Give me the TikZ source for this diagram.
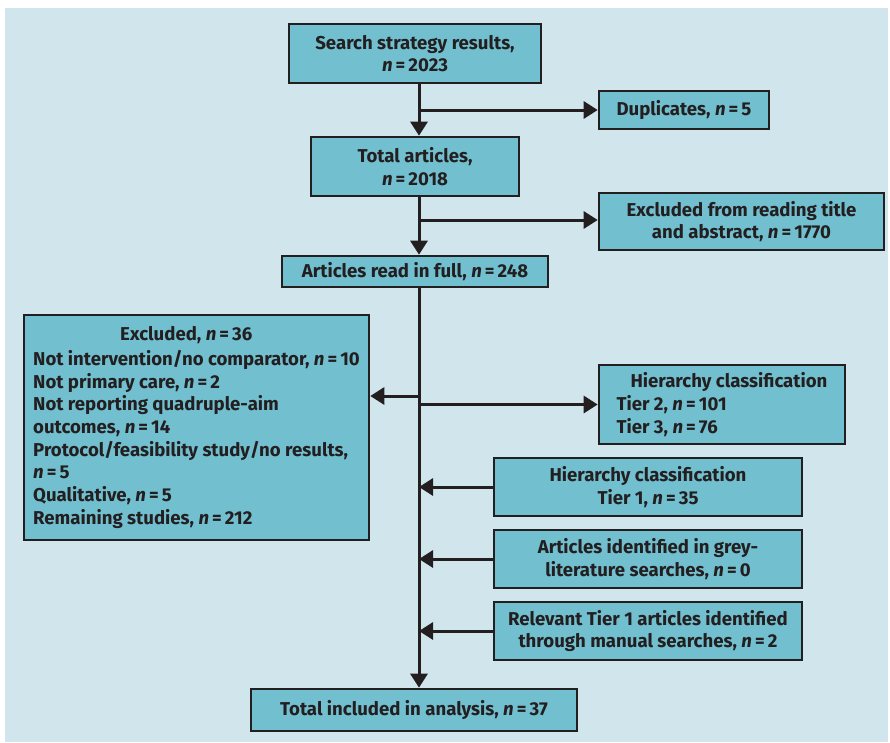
\documentclass[tikz,border=0pt]{standalone}
\usepackage{fontspec}
\setmainfont{Fira Sans}
\usetikzlibrary{arrows.meta,calc}
\definecolor{bgc}{HTML}{D1E5EC}
\definecolor{boxc}{HTML}{71BFCF}
\definecolor{ink}{HTML}{231F20}
\newcommand{\nval}{\textit{n}\,=\,}
\tikzset{
 box/.style={draw=ink, fill=boxc, line width=2.6pt, inner sep=0pt, align=center,
   font=\fontsize{18.6}{22.7}\selectfont\bfseries, text=ink},
 conn/.style={draw=ink, line width=3pt},
 arr/.style={conn, -{Triangle[length=14pt,width=17pt]}},
}
\begin{document}
\begin{tikzpicture}[x=1pt,y=-1pt]
\useasboundingbox (0,0) rectangle (890,742);
\fill[bgc] (5,8) rectangle (888,742);
\coordinate (spine) at (419,0);

\node[box, minimum width=252pt, minimum height=59pt] (search) at (415,53.5) {Search strategy results,\\ \nval 2023};
\node[box, minimum width=170pt, minimum height=38pt] (dup) at (684,110) {Duplicates, \nval 5};
\node[box, minimum width=208pt, minimum height=59pt] (total) at (415,166.5) {Total articles,\\ \nval 2018};
\node[box, minimum width=285pt, minimum height=57pt] (exread) at (741.5,221.5) {Excluded from reading title\\ and abstract, \nval 1770};
\node[box, minimum width=266pt, minimum height=31pt] (full) at (415,271.5) {Articles read in full, \nval 248};
\node[box, minimum width=345pt, minimum height=225pt, align=left] (excl) at (196.5,427.5)
 {\hspace*{87pt}Excluded, \nval 36\\[2pt]
  Not intervention/no comparator, \nval 10\\
  Not primary care, \nval 2\\
  Not reporting quadruple-aim\\
  outcomes, \nval 14\\
  Protocol/feasibility study/no results,\\
  \nval 5\\
  Qualitative, \nval 5\\
  Remaining studies, \nval 212};
\node[box, minimum width=246pt, minimum height=79pt, align=left] (hier) at (722,404.5)
 {\hspace*{14pt}Hierarchy classification\\
  Tier 2, \nval 101\\
  Tier 3, \nval 76};
\node[box, minimum width=308pt, minimum height=58pt] (tone) at (648,487) {Hierarchy classification\\ Tier 1, \nval 35};
\node[box, minimum width=308pt, minimum height=58pt] (grey) at (648,559) {Articles identified in grey-\\ literature searches, \nval 0};
\node[box, minimum width=308pt, minimum height=58pt] (rel) at (648,631) {Relevant Tier 1 articles identified\\ through manual searches, \nval 2};
\node[box, minimum width=326pt, minimum height=42pt] (incl) at (414,710) {Total included in analysis, \nval 37};

\draw[arr] (search.south -| spine) -- (total.north -| spine);
\draw[arr] (spine |- dup.west) -- (dup.west);
\draw[arr] (total.south -| spine) -- (full.north -| spine);
\draw[arr] (spine |- 0,220) -- (exread.west |- 0,220);
\draw[arr] (full.south -| spine) -- (incl.north -| spine);
\coordinate (j1) at (419,396);
\draw[arr] (j1) -- (j1 -| excl.east);
\draw[arr] (spine |- hier.west) -- (hier.west);
\draw[arr] (tone.west) -- (spine |- tone.west);
\draw[arr] (grey.west) -- (spine |- grey.west);
\draw[arr] (rel.west) -- (spine |- rel.west);
\end{tikzpicture}
\end{document}
